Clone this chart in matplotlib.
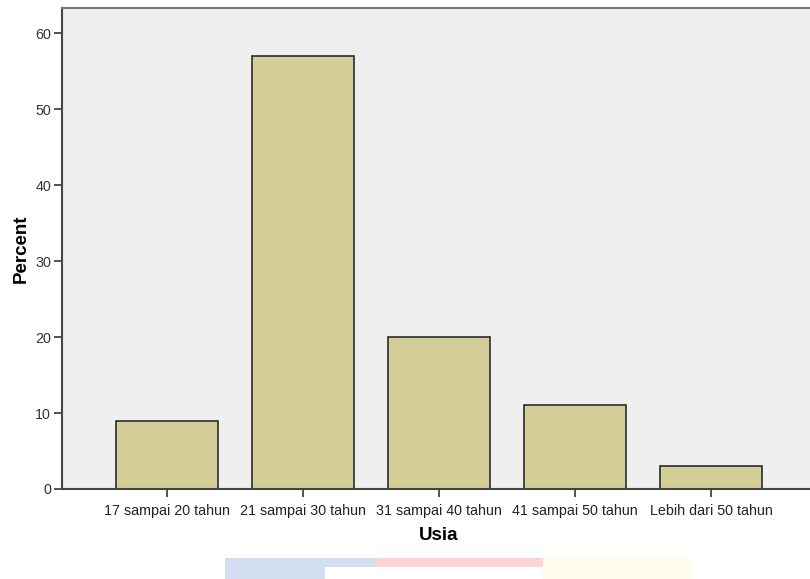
import matplotlib.pyplot as plt
from matplotlib.patches import Rectangle

categories = ['17 sampai 20 tahun', '21 sampai 30 tahun', '31 sampai 40 tahun',
              '41 sampai 50 tahun', 'Lebih dari 50 tahun']
percent = [9, 57, 20, 11, 3]
yticks = [0, 10, 20, 30, 40, 50, 60]

plt.rcParams['font.family'] = ['Liberation Sans', 'DejaVu Sans']

W, H = 810, 579
fig = plt.figure(figsize=(W / 100, H / 100), dpi=100)

# faint watermark strip at the bottom of the page
def px_rect(x0, y0, x1, y1, color):
    fig.patches.append(Rectangle((x0 / W, 1 - y1 / H), (x1 - x0) / W, (y1 - y0) / H,
                                 transform=fig.transFigure, facecolor=color,
                                 edgecolor='none', zorder=0))

px_rect(225, 558, 375, 579, '#d2ddf0')
px_rect(375, 558, 543, 567, '#ffd3d3')
px_rect(543, 558, 690, 579, '#fffbea')
px_rect(325, 567, 375, 579, 'white')

ax = fig.add_axes([62 / W, 1 - 489 / H, (816 - 62) / W, (489 - 8) / H])
ax.set_facecolor('#efefef')

x = range(len(categories))
ax.bar(x, percent, width=0.75, color='#d3ce97', edgecolor='#2b2b2b', linewidth=1.2, zorder=2)

ax.set_xlim(-0.772, 4.772)
ax.set_ylim(0, 63.3)
ax.set_xticks(list(x))
ax.set_xticklabels(categories, fontsize=10.3, color='#222222')
ax.set_yticks(yticks)
ax.set_yticklabels([str(v) for v in yticks], fontsize=10.3, color='#333333')

ax.tick_params(axis='both', direction='out', length=6, width=1.3, color='#444444')
ax.tick_params(axis='x', pad=5)
ax.tick_params(axis='y', pad=2)

for side in ['left', 'bottom']:
    ax.spines[side].set_color('#444444')
    ax.spines[side].set_linewidth(1.5)
ax.spines['top'].set_color('#777777')
ax.spines['top'].set_linewidth(1.5)
ax.spines['right'].set_visible(False)

ax.set_xlabel('Usia', fontsize=13.5, fontweight='bold', labelpad=6)
ax.set_ylabel('Percent', fontsize=13.5, fontweight='bold', labelpad=4)

fig.savefig('out.png', dpi=100)
